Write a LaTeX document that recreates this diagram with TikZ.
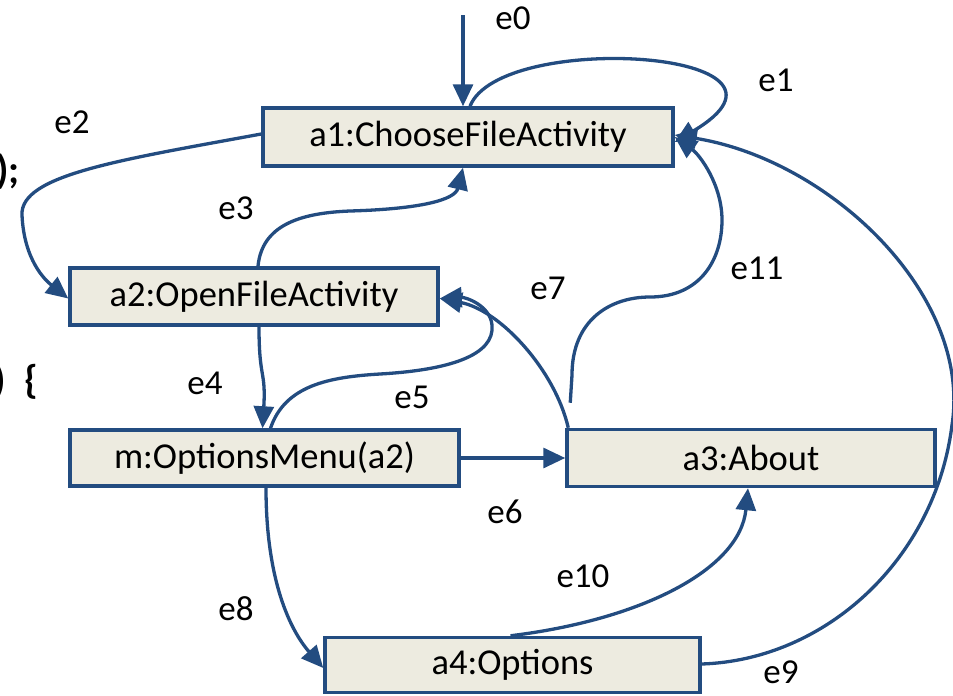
\documentclass[tikz,border=0pt]{standalone}
\usepackage{fontspec}
\setmainfont{Carlito}
\usetikzlibrary{arrows.meta}
\definecolor{edgeblue}{HTML}{234C80}
\definecolor{boxfill}{HTML}{EDEBE0}
\tikzset{
  state/.style={draw=edgeblue, line width=3.5pt, fill=boxfill, inner sep=0pt,
    font=\fontsize{36.5}{40}\selectfont},
  arr/.style={draw=edgeblue, line width=3.3pt, -{Triangle[length=22pt,width=20pt]}},
  lbl/.style={font=\fontsize{35}{40}\selectfont, inner sep=0pt},
  frag/.style={font=\fontsize{40}{44}\selectfont\bfseries, inner sep=0pt, anchor=base west}
}
\begin{document}
\begin{tikzpicture}[x=1pt, y=-1pt]
\useasboundingbox (0,0) rectangle (953,696);

% code fragments at the left margin
\node[frag] (fragA) at (-4,183) {);};
\node[frag] (fragB) at (-7,393) {)\hspace{19pt}\{};

% states
\node[state, minimum width=410pt, minimum height=58pt] (a1) at (468,137) {a1:ChooseFileActivity};
\node[state, minimum width=368pt, minimum height=57pt] (a2) at (254,296.5) {a2:OpenFileActivity};
\node[state, minimum width=389pt, minimum height=56pt] (m)  at (264.5,458) {m:OptionsMenu(a2)};
\node[state, minimum width=368pt, minimum height=57pt] (a3) at (751,458) {a3:About};
\node[state, minimum width=375pt, minimum height=55pt] (a4) at (512.5,665) {a4:Options};

% entry point
\coordinate (start) at (463,15);

% transitions
\draw[arr] (start) -- ([xshift=-5pt]a1.north);
\draw[arr] ([xshift=2pt]a1.north) .. controls (500,30) and (830,50) .. ([yshift=-5pt]a1.east);
\draw[arr] ([yshift=3pt]a1.west) .. controls (120,160) and (20,175) .. (22,215)
  .. controls (24,260) and (45,280) .. ([yshift=-2pt]a2.west);
\draw[arr] ([xshift=4pt]a2.north) .. controls (262,225) and (300,213) .. (350,211)
  .. controls (420,209) and (455,200) .. ([xshift=-5pt]a1.south);
\draw[arr] ([xshift=5pt]a2.south) .. controls (259,380) and (266,370) .. ([xshift=-2pt]m.north);
\draw[arr] ([xshift=6pt]m.north) .. controls (285,385) and (330,377) .. (380,374)
  .. controls (450,370) and (495,355) .. (492,325)
  .. controls (490,305) and (465,297) .. ([yshift=-2pt]a2.east);
\draw[arr] (m.east) -- (a3.west);
\draw[arr] ([xshift=3pt]a3.north west) .. controls (555,370) and (500,310) .. ([yshift=-2pt]a2.east);
\draw[arr] ([xshift=5pt,yshift=25pt]a3.north west) -- (572,375)
  .. controls (572,320) and (610,297) .. (650,297)
  .. controls (700,297) and (722,260) .. (722,220)
  .. controls (722,185) and (700,155) .. (a1.east);
\draw[arr] ([xshift=1.5pt]m.south) .. controls (266,580) and (290,630) .. ([yshift=-3pt]a4.west);
\draw[arr] ([yshift=1pt]a4.east) .. controls (825,660) and (935,560) .. (952,425)
  .. controls (972,295) and (830,160) .. ([yshift=2pt]a1.east);
\draw[arr] ([xshift=-2pt]a4.north) .. controls (640,620) and (740,570) .. ([xshift=-3pt]a3.south);

% transition labels
\node[lbl] (l0)  at (513,18)  {e0};
\node[lbl] (l1)  at (776,80)  {e1};
\node[lbl] (l2)  at (72,122)  {e2};
\node[lbl] (l3)  at (236,208) {e3};
\node[lbl] (l4)  at (205,383) {e4};
\node[lbl] (l5)  at (412,397) {e5};
\node[lbl] (l6)  at (505,512) {e6};
\node[lbl] (l7)  at (548,288) {e7};
\node[lbl] (l8)  at (236,609) {e8};
\node[lbl] (l9)  at (781,672) {e9};
\node[lbl] (l10) at (583,576) {e10};
\node[lbl] (l11) at (757,268) {e11};
\end{tikzpicture}
\end{document}
